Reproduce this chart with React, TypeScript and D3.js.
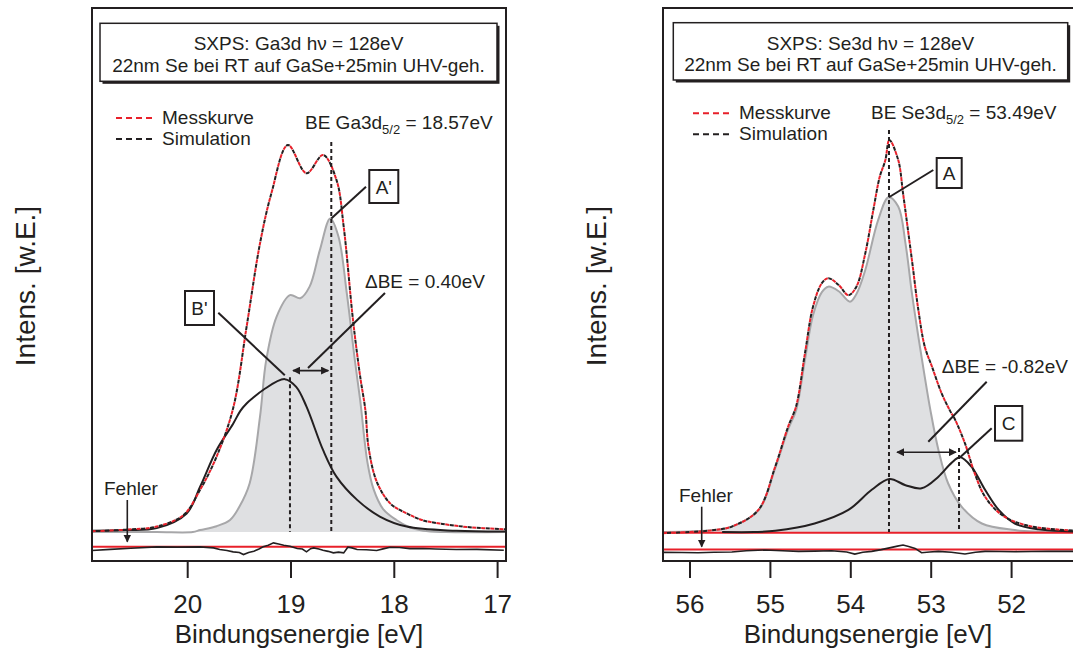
import React from 'react';
import * as d3 from 'd3';

const FONT = '"Liberation Sans", Arial, Helvetica, sans-serif';
const INK = '#231f20';

// --- Ga3d panel (left) ---
const gaMessE = [20.93, 20.6, 20.3, 20.04, 19.88, 19.72, 19.56, 19.43, 19.3, 19.19, 19.03, 18.85, 18.69, 18.56, 18.49, 18.4, 18.33, 18.28, 18.25, 18.17, 18.04, 17.88, 17.72, 17.56, 17.3, 16.92];
const gaMessI = [0.2, 0.6, 1.4, 4.4, 10.9, 19.5, 32, 53, 74.6, 87.5, 100, 92.7, 97.4, 91, 78.9, 54.8, 40.1, 31.5, 22, 13, 7.4, 4.8, 3.0, 2.2, 1.3, 0.7];
const gaAE = [20.93, 20.3, 19.95, 19.88, 19.72, 19.59, 19.5, 19.4, 19.3, 19.24, 19.14, 19.01, 18.91, 18.82, 18.72, 18.62, 18.54, 18.46, 18.38, 18.33, 18.26, 18.2, 18.11, 17.98, 17.85, 17.72, 17.5, 16.92];
const gaAI = [0, 0, 0, 0.5, 1.5, 3.1, 6.5, 12.6, 29.8, 44.4, 55.6, 61.2, 60.4, 63.4, 72.9, 81, 76.3, 61.7, 44, 34, 18, 11, 6, 3.1, 1.2, 0.3, 0, 0];
const gaBE = [20.93, 20.6, 20.3, 20.01, 19.88, 19.72, 19.56, 19.49, 19.43, 19.37, 19.27, 19.06, 18.95, 18.85, 18.69, 18.56, 18.36, 18.14, 17.88, 17.4, 16.92];
const gaBI = [0.3, 0.5, 1.0, 4.8, 11.7, 21.2, 28.0, 31.3, 33.2, 34.6, 36.7, 39.5, 37.5, 32.4, 21.2, 14.3, 8.3, 4.0, 1.4, 0.3, 0.1];
const gaResE = [20.93, 20.75, 20.55, 20.3, 20.1, 19.88, 19.75, 19.69, 19.62, 19.56, 19.5, 19.46, 19.41, 19.36, 19.31, 19.27, 19.22, 19.17, 19.12, 19.07, 19.01, 18.94, 18.89, 18.85, 18.81, 18.78, 18.73, 18.69, 18.64, 18.59, 18.54, 18.49, 18.45, 18.41, 18.36, 18.27, 18.17, 18.1, 18.04, 17.95, 17.85, 17.72, 17.6, 17.4, 17.2, 16.94];
const gaResI = [-0.7, -0.4, -0.1, 0.26, 0.2, 0.26, 0.0, -0.43, -0.7, -1.03, -1.2, -1.72, -1.2, -0.86, -0.3, 0.26, 0.7, 1.29, 1.0, 0.69, 0.4, -0.17, -0.3, -1.03, -0.2, 0, -0.3, -0.6, -0.9, -1.29, -1.1, -1.29, 0.17, 0.0, -0.43, -0.5, -0.69, -0.2, 0.17, 0.1, -0.2, -0.17, -0.3, -0.43, -0.4, -0.6];
const gaTicks = [20, 19, 18, 17];

// --- Se3d panel (right) ---
const seMessE = [56.34, 56.0, 55.7, 55.48, 55.15, 54.94, 54.78, 54.68, 54.57, 54.47, 54.36, 54.28, 54.15, 54.03, 53.93, 53.82, 53.72, 53.64, 53.57, 53.52, 53.41, 53.35, 53.24, 53.16, 53.08, 52.99, 52.87, 52.77, 52.7, 52.58, 52.46, 52.33, 52.12, 51.83, 51.34, 51.0];
const seMessI = [-0.3, 0, 0.5, 1.4, 5.7, 16.9, 27.2, 32.5, 46.2, 58.2, 64.3, 65.6, 63.8, 61.2, 63.4, 72, 83.2, 91.8, 96.1, 101.3, 96.1, 87.5, 70.3, 57.4, 47.9, 42.7, 35.8, 31.5, 28.9, 22.9, 15.2, 9.1, 4.4, 1.8, 0.5, 0.3];
const seAE = [56.34, 55.7, 55.48, 55.15, 54.94, 54.78, 54.68, 54.57, 54.47, 54.36, 54.28, 54.15, 54.01, 53.93, 53.82, 53.66, 53.53, 53.41, 53.32, 53.24, 53.16, 53.08, 53.01, 52.91, 52.79, 52.62, 52.37, 51.96, 51.7, 51.0];
const seAI = [0, 0.5, 1.4, 5.5, 16.5, 26.5, 31.5, 44.5, 56, 62, 63.4, 62.2, 59.5, 61.5, 67.7, 80.6, 86.5, 84.1, 74.6, 61.7, 50.5, 40.1, 31.5, 21.2, 12.6, 6.5, 2.2, 0.5, 0.1, 0];
const seCE = [55.6, 55.2, 54.94, 54.45, 54.03, 53.74, 53.52, 53.32, 53.12, 52.91, 52.75, 52.64, 52.5, 52.33, 52.16, 51.96, 51.67, 51.3, 51.0];
const seCI = [0, 0, 0.3, 2.2, 5.7, 10.9, 13.7, 12.1, 11.3, 14.3, 17.8, 19.3, 16.9, 10.9, 5.7, 2.2, 0.7, 0.2, 0.1];
const seResE = [56.34, 56.1, 55.9, 55.7, 55.48, 55.3, 55.07, 54.85, 54.65, 54.45, 54.24, 54.05, 53.95, 53.85, 53.74, 53.62, 53.49, 53.42, 53.35, 53.28, 53.2, 53.12, 53.02, 52.91, 52.75, 52.58, 52.45, 52.33, 52.15, 51.96, 51.75, 51.54, 51.24, 51.0];
const seResI = [-0.52, -0.55, -0.6, -0.5, -0.43, -0.1, 0.09, -0.1, -0.26, -0.2, -0.09, -0.4, -0.95, -0.5, -0.26, 0.2, 0.78, 1.1, 1.38, 1.0, 0.52, -0.6, -0.4, -0.26, -0.5, -0.95, -0.5, -0.26, -0.3, -0.34, -0.3, -0.26, -0.26, -0.26];
const seTicks = [56, 55, 54, 53, 52];

const y = d3.scaleLinear().domain([0, 100]).range([532, 145]);

type Pt = [number, number];
const zip = (e: number[], v: number[], off = 0): Pt[] => e.map((d, i) => [d, v[i] + off]);

function Panel(props: any) {
  const { id, x, left, right, ticks, info, beMain, beVal, legX, legY, mess, compA, compB,
    res, resOff, redBase, peakA, peakB, topA, topB, arrowY, dLabel, dPos, boxes, fehler, yLabelX } = props;
  const smooth = d3.curveCatmullRom.alpha(0.5);
  const line = d3.line<Pt>().x(d => x(d[0])).y(d => y(d[1])).curve(smooth);
  const area = d3.area<Pt>().x(d => x(d[0])).y0(y(0)).y1(d => y(d[1])).curve(smooth);
  const resLine = d3.line<Pt>().x(d => x(d[0])).y(d => y(d[1]));
  const top = 8, bottom = 561;
  const cx = (left + Math.min(right, 1073)) / 2;
  const xa = Math.min(x(peakA), x(peakB)), xb = Math.max(x(peakA), x(peakB));
  return (
    <g>
      <defs>
        <clipPath id={id + 'clip'}>
          <rect x={left} y={top} width={right - left} height={bottom - top} />
        </clipPath>
      </defs>
      <g clipPath={`url(#${id}clip)`}>
        <path d={area(compA) || ''} fill="#dfe0e2" stroke="none" />
        <path d={line(compA) || ''} fill="none" stroke="#a7a7a9" strokeWidth={2} />
        {redBase !== undefined && (
          <line x1={left} x2={right} y1={y(redBase)} y2={y(redBase)} stroke="#e8202a" strokeWidth={2} />
        )}
        <line x1={left} x2={right} y1={y(resOff)} y2={y(resOff)} stroke="#e8202a" strokeWidth={2} />
        <path d={resLine(res) || ''} fill="none" stroke={INK} strokeWidth={1.6} />
        <path d={line(compB) || ''} fill="none" stroke={INK} strokeWidth={2} />
        <path d={line(mess) || ''} fill="none" stroke="#e8202a" strokeWidth={2} strokeDasharray="4 5" />
        <path d={line(mess) || ''} fill="none" stroke={INK} strokeWidth={2} strokeDasharray="4 5" strokeDashoffset={4.5} />
        <line x1={x(peakA)} x2={x(peakA)} y1={y(topA)} y2={y(0)} stroke={INK} strokeWidth={2} strokeDasharray="4 3" />
        <line x1={x(peakB)} x2={x(peakB)} y1={y(topB)} y2={y(0)} stroke={INK} strokeWidth={2} strokeDasharray="4 3" />
      </g>
      {/* frame */}
      <rect x={left} y={top} width={right - left} height={bottom - top} fill="none" stroke={INK} strokeWidth={2} />
      {ticks.map((t: number) => (
        <g key={t}>
          <line x1={x(t)} x2={x(t)} y1={bottom} y2={578} stroke={INK} strokeWidth={2} />
          <text x={x(t)} y={613} textAnchor="middle" fontSize={26} fill={INK}>{t}</text>
        </g>
      ))}
      <text x={cx} y={643} textAnchor="middle" fontSize={26} fill={INK}>Bindungsenergie [eV]</text>
      <text transform={`translate(${yLabelX},286) rotate(-90)`} textAnchor="middle" fontSize={28} fill={INK}>Intens. [w.E.]</text>
      {/* info box */}
      <rect x={info.x + 2.5} y={info.y + 2.5} width={info.w} height={info.h} fill={INK} />
      <rect x={info.x} y={info.y} width={info.w} height={info.h} fill="#fff" stroke={INK} strokeWidth={1.5} />
      <text x={info.x + info.w / 2} y={info.y + 27} textAnchor="middle" fontSize={19} fill={INK}>{info.l1}</text>
      <text x={info.x + info.w / 2} y={info.y + 48.5} textAnchor="middle" fontSize={19} fill={INK}>{info.l2}</text>
      {/* legend */}
      <line x1={legX} x2={legX + 37} y1={legY} y2={legY} stroke="#e8202a" strokeWidth={2} strokeDasharray="6 4" />
      <text x={legX + 46} y={legY + 6} fontSize={19} fill={INK}>Messkurve</text>
      <line x1={legX} x2={legX + 37} y1={legY + 21} y2={legY + 21} stroke={INK} strokeWidth={2} strokeDasharray="6 4" />
      <text x={legX + 46} y={legY + 27} fontSize={19} fill={INK}>Simulation</text>
      {/* BE label */}
      <text x={beMain.x} y={beMain.y} fontSize={19} fill={INK}>
        {beMain.pre}<tspan fontSize={13} dy={5}>5/2</tspan><tspan dy={-5}>{beVal}</tspan>
      </text>
      {/* delta BE */}
      <line x1={xa + dPos.gap} x2={xb - 3} y1={y(arrowY)} y2={y(arrowY)} stroke={INK} strokeWidth={1.6}
        markerStart="url(#arrS)" markerEnd="url(#arrE)" />
      <text x={dPos.tx} y={dPos.ty} fontSize={19} fill={INK}>{dLabel}</text>
      <line x1={dPos.lx1} y1={dPos.ly1} x2={dPos.lx2} y2={dPos.ly2} stroke={INK} strokeWidth={2} />
      {/* peak label boxes */}
      {boxes.map((b: any) => (
        <g key={b.t}>
          <rect x={b.x} y={b.y} width={b.w} height={b.h} fill="#fff" stroke={INK} strokeWidth={2} />
          <text x={b.x + b.w / 2} y={b.y + b.h / 2 + 7} textAnchor="middle" fontSize={19} fill={INK}>{b.t}</text>
          <line x1={b.lx} y1={b.ly} x2={x(b.pe)} y2={y(b.pv)} stroke={INK} strokeWidth={2} />
        </g>
      ))}
      {/* Fehler */}
      <text x={fehler.x} y={fehler.y} fontSize={19} fill={INK}>Fehler</text>
      <line x1={fehler.ax} x2={fehler.ax} y1={fehler.y + 5} y2={fehler.ay} stroke={INK} strokeWidth={1.6} markerEnd="url(#arrE)" />
    </g>
  );
}

export default function App() {
  const xL = d3.scaleLinear().domain([20, 17]).range([187.7, 497.6]);
  const xR = d3.scaleLinear().domain([56, 52]).range([690, 1011.6]);
  return (
    <svg width={1073} height={648} style={{ position: 'absolute', left: 0, top: 0, display: 'block', background: '#fff' }}
      fontFamily={FONT}>
      <defs>
        <marker id="arrE" viewBox="0 0 10 10" refX={9} refY={5} markerWidth={5} markerHeight={5} orient="auto" markerUnits="strokeWidth">
          <path d="M0,0 L10,5 L0,10 z" fill={INK} />
        </marker>
        <marker id="arrS" viewBox="0 0 10 10" refX={1} refY={5} markerWidth={5} markerHeight={5} orient="auto" markerUnits="strokeWidth">
          <path d="M10,0 L0,5 L10,10 z" fill={INK} />
        </marker>
      </defs>
      <Panel id="ga" x={xL} left={92} right={506} ticks={gaTicks}
        info={{ x: 100, y: 23.3, w: 397, h: 58, l1: 'SXPS: Ga3d hν = 128eV', l2: '22nm Se bei RT auf GaSe+25min UHV-geh.' }}
        beMain={{ x: 305, y: 129, pre: 'BE Ga3d' }} beVal=" = 18.57eV"
        legX={116} legY={118}
        mess={zip(gaMessE, gaMessI)} compA={zip(gaAE, gaAI)} compB={zip(gaBE, gaBI)}
        res={zip(gaResE, gaResI, -4.1)} resOff={-3.8}
        peakA={18.61} peakB={19.01} topA={100.8} topB={40} arrowY={41.7}
        dLabel="ΔBE = 0.40eV" dPos={{ tx: 365, ty: 288, lx1: 385, ly1: 293, lx2: 308, ly2: 368, gap: 3 }}
        boxes={[
          { t: "A'", x: 369.3, y: 170, w: 29, h: 33, lx: 366, ly: 186.7, pe: 18.61, pv: 81 },
          { t: "B'", x: 185, y: 291, w: 29, h: 34, lx: 218.3, ly: 312.7, pe: 19.06, pv: 40.5 },
        ]}
        fehler={{ x: 104, y: 495, ax: 127.3, ay: 541.7 }} yLabelX={35} />
      <Panel id="se" x={xR} left={663} right={1085} ticks={seTicks}
        info={{ x: 673.3, y: 22.7, w: 394.4, h: 57.3, l1: 'SXPS: Se3d hν = 128eV', l2: '22nm Se bei RT auf GaSe+25min UHV-geh.' }}
        beMain={{ x: 871, y: 119.3, pre: 'BE Se3d' }} beVal=" = 53.49eV"
        legX={693} legY={113.3}
        mess={zip(seMessE, seMessI)} compA={zip(seAE, seAI)} compB={zip(seCE, seCI)}
        res={zip(seResE, seResI, -4.75)} resOff={-4.55} redBase={-0.2}
        peakA={53.525} peakB={52.654} topA={103.9} topB={21.7} arrowY={20.6}
        dLabel="ΔBE = -0.82eV" dPos={{ tx: 941.7, ty: 373, lx1: 986.7, ly1: 381.7, lx2: 928.3, ly2: 441.7, gap: 8 }}
        boxes={[
          { t: 'A', x: 936.7, y: 158, w: 25, h: 30, lx: 933.3, ly: 170, pe: 53.525, pv: 86.5 },
          { t: 'C', x: 995, y: 406, w: 27.3, h: 34.7, lx: 991.7, ly: 428.3, pe: 52.64, pv: 19.3 },
        ]}
        fehler={{ x: 679, y: 501.7, ax: 701.7, ay: 546.7 }} yLabelX={606} />
    </svg>
  );
}
